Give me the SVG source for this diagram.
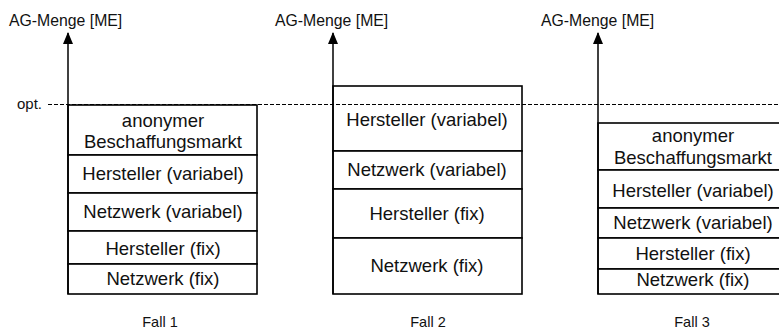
<svg xmlns="http://www.w3.org/2000/svg" width="779" height="332" viewBox="0 0 779 332">
<defs>
<marker id="arr" viewBox="0 0 12 10" refX="11" refY="5" markerWidth="12" markerHeight="10" markerUnits="userSpaceOnUse" orient="auto">
<path d="M0,0 L12,5 L0,10 Z" fill="#000"/>
</marker>
</defs>
<style>
.cell{fill:#fff;stroke:#000;stroke-width:1.6}
.t{font-family:"Liberation Sans",Arial,sans-serif;font-size:18.5px;fill:#111;text-anchor:middle}
.lab{font-family:"Liberation Sans",Arial,sans-serif;font-size:15.8px;fill:#111}
.fall{font-family:"Liberation Sans",Arial,sans-serif;font-size:14.5px;fill:#111;text-anchor:middle}
.axis{stroke:#000;stroke-width:1.5;fill:none}
.dash{stroke:#000;stroke-width:1;stroke-dasharray:4,2;fill:none}
</style>
<rect width="779" height="332" fill="#fff"/>

<!-- Fall 1 -->
<g id="f1-markt"><rect class="cell" x="68" y="105" width="189" height="50"/><text class="t" x="163" y="126.5">anonymer</text><text class="t" x="163" y="147.5">Beschaffungsmarkt</text></g>
<g id="f1-hvar"><rect class="cell" x="68" y="155" width="189" height="38"/><text class="t" x="163" y="180">Hersteller (variabel)</text></g>
<g id="f1-nvar"><rect class="cell" x="68" y="193" width="189" height="38"/><text class="t" x="163" y="218">Netzwerk (variabel)</text></g>
<g id="f1-hfix"><rect class="cell" x="68" y="231" width="189" height="33"/><text class="t" x="163" y="254.5">Hersteller (fix)</text></g>
<g id="f1-nfix"><rect class="cell" x="68" y="264" width="189" height="30"/><text class="t" x="163" y="285">Netzwerk (fix)</text></g>

<!-- Fall 2 -->
<g id="f2-hvar"><rect class="cell" x="333" y="86" width="189" height="65"/><text class="t" x="427" y="125.5">Hersteller (variabel)</text></g>
<g id="f2-nvar"><rect class="cell" x="333" y="151" width="189" height="38"/><text class="t" x="427" y="176">Netzwerk (variabel)</text></g>
<g id="f2-hfix"><rect class="cell" x="333" y="189" width="189" height="49"/><text class="t" x="427" y="219.5">Hersteller (fix)</text></g>
<g id="f2-nfix"><rect class="cell" x="333" y="238" width="189" height="56"/><text class="t" x="427" y="272">Netzwerk (fix)</text></g>

<!-- Fall 3 -->
<g id="f3-markt"><rect class="cell" x="598" y="123" width="191" height="47"/><text class="t" x="693" y="142">anonymer</text><text class="t" x="693" y="163.5">Beschaffungsmarkt</text></g>
<g id="f3-hvar"><rect class="cell" x="598" y="170" width="191" height="38"/><text class="t" x="693" y="196.5">Hersteller (variabel)</text></g>
<g id="f3-nvar"><rect class="cell" x="598" y="208" width="191" height="30"/><text class="t" x="693" y="228.5">Netzwerk (variabel)</text></g>
<g id="f3-hfix"><rect class="cell" x="598" y="238" width="191" height="31"/><text class="t" x="693" y="259.5">Hersteller (fix)</text></g>
<g id="f3-nfix"><rect class="cell" x="598" y="269" width="191" height="25"/><text class="t" x="693" y="285.5">Netzwerk (fix)</text></g>

<g id="connectors">
<line class="dash" x1="48" y1="104.5" x2="779" y2="104.5"/>
<line class="axis" x1="68" y1="294" x2="68" y2="33" marker-end="url(#arr)"/>
<line class="axis" x1="333" y1="294" x2="333" y2="33" marker-end="url(#arr)"/>
<line class="axis" x1="598" y1="294" x2="598" y2="33" marker-end="url(#arr)"/>
</g>

<g id="labels">
<text class="lab" x="9" y="25.5">AG-Menge [ME]</text>
<text class="lab" x="275" y="25.5">AG-Menge [ME]</text>
<text class="lab" x="541" y="25.5">AG-Menge [ME]</text>
<text class="lab" x="17" y="109" style="font-size:15px">opt.</text>
<text class="fall" x="160" y="327">Fall 1</text>
<text class="fall" x="428" y="327">Fall 2</text>
<text class="fall" x="692" y="327">Fall 3</text>
</g>
</svg>
